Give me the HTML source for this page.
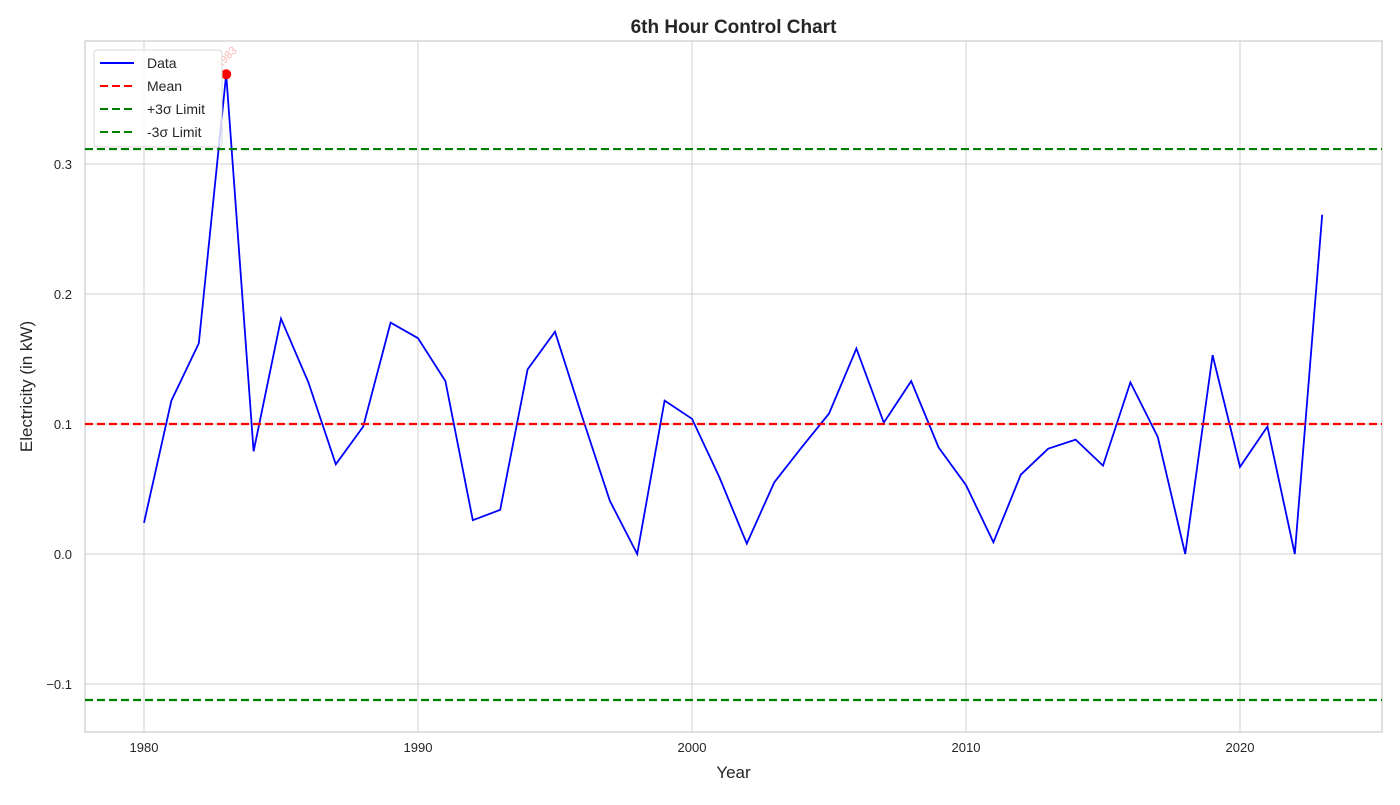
<!DOCTYPE html>
<html><head><meta charset="utf-8"><style>
body{margin:0;background:#fff;font-family:"Liberation Sans","DejaVu Sans",sans-serif}
svg text{font-family:"Liberation Sans","DejaVu Sans",sans-serif}
</style></head><body>
<svg id="chart" width="1400" height="800" xmlns="http://www.w3.org/2000/svg"></svg>
<script>
const years=[1980,1981,1982,1983,1984,1985,1986,1987,1988,1989,1990,1991,1992,1993,1994,1995,1996,1997,1998,1999,2000,2001,2002,2003,2004,2005,2006,2007,2008,2009,2010,2011,2012,2013,2014,2015,2016,2017,2018,2019,2020,2021,2022,2023];
const values=[0.024,0.118,0.162,0.369,0.079,0.181,0.132,0.069,0.098,0.178,0.166,0.133,0.026,0.034,0.142,0.171,0.105,0.041,0.0,0.118,0.104,0.059,0.008,0.055,0.082,0.108,0.158,0.101,0.133,0.082,0.053,0.009,0.061,0.081,0.088,0.068,0.132,0.090,0.0,0.153,0.067,0.098,0.0,0.261];
const meanVal=0.1, upperVal=0.3115, lowerVal=-0.1123;
const xTicks=[1980,1990,2000,2010,2020];
const yTicks=[-0.1,0.0,0.1,0.2,0.3];
const yTickLabels=["\u22120.1","0.0","0.1","0.2","0.3"];
const outlierYears=[1983];

const L=85,R=1382,T=41,B=732;
const X=v=>144+(v-1980)*(1240-144)/40;
const Y=v=>554-v*1300;
const svg=document.getElementById('chart');
const NS='http://www.w3.org/2000/svg';
function mk(tag,attrs,parent){const e=document.createElementNS(NS,tag);for(const k in attrs)e.setAttribute(k,attrs[k]);(parent||svg).appendChild(e);return e;}

xTicks.forEach(t=>{
  const g=mk('line',{x1:X(t),x2:X(t),y1:T,y2:B,stroke:'#d0d0d0','stroke-width':1});
  
  
  const tx=mk('text',{x:X(t),y:B+20,'text-anchor':'middle','font-size':13,fill:'#262626'});
  tx.textContent=t;
  
  
});
yTicks.forEach((t,i)=>{
  const g=mk('line',{x1:L,x2:R,y1:Y(t),y2:Y(t),stroke:'#d0d0d0','stroke-width':1});
  
  
  const tx=mk('text',{x:L-13,y:Y(t)+5,'text-anchor':'end','font-size':13,fill:'#262626'});
  tx.textContent=yTickLabels[i];
  
  
});
const frame=mk('rect',{x:L,y:T,width:R-L,height:B-T,fill:'none',stroke:'#cccccc','stroke-width':1.2});



const line=mk('polyline',{points:years.map((y,i)=>X(y)+','+Y(values[i])).join(' '),fill:'none',stroke:'#0000ff','stroke-width':1.8});



[[meanVal,'#ff0000','mean-line'],[upperVal,'#008000','upper-limit-line'],[lowerVal,'#008000','lower-limit-line']].forEach(a=>{
  const l=mk('line',{x1:L,x2:R,y1:Y(a[0]),y2:Y(a[0]),stroke:a[1],'stroke-width':2.2,'stroke-dasharray':'8,4'});
  
  
});

outlierYears.forEach(yr=>{
  const v=values[years.indexOf(yr)];
  const c=mk('circle',{cx:X(yr),cy:Y(v),r:5,fill:'#ff0000'});
  
  
  const t=mk('text',{x:X(yr)-6,y:Y(v)-6,'font-size':11,fill:'#ff0000','fill-opacity':0.3,transform:`rotate(-45 ${X(yr)-6} ${Y(v)-6})`});
  t.textContent=yr;
  
  
});

// legend
const lg=mk('g',{});


mk('rect',{x:94,y:50,width:128,height:97,rx:3,fill:'#fff','fill-opacity':0.8,stroke:'#d8d8d8'},lg);
const items=[['Data','#0000ff',null],['Mean','#ff0000','8,4'],['+3σ Limit','#008000','8,4'],['-3σ Limit','#008000','8,4']];
items.forEach((it,i)=>{
  const yy=63+i*23;
  const a={x1:100,x2:134,y1:yy,y2:yy,stroke:it[1],'stroke-width':2};
  if(it[2])a['stroke-dasharray']=it[2];
  mk('line',a,lg);
  const t=mk('text',{x:147,y:yy+5,'font-size':14,fill:'#262626'},lg);
  t.textContent=it[0];
  
  
});

const title=mk('text',{x:(L+R)/2,y:33,'text-anchor':'middle','font-size':19,'font-weight':'bold',fill:'#262626'});
title.textContent='6th Hour Control Chart';


const xt=mk('text',{x:(L+R)/2,y:778,'text-anchor':'middle','font-size':17,fill:'#262626'});
xt.textContent='Year';


const yt=mk('text',{x:32,y:(T+B)/2,'text-anchor':'middle','font-size':17,fill:'#262626',transform:`rotate(-90 32 ${(T+B)/2})`});
yt.textContent='Electricity (in kW)';


</script>
</body></html>
